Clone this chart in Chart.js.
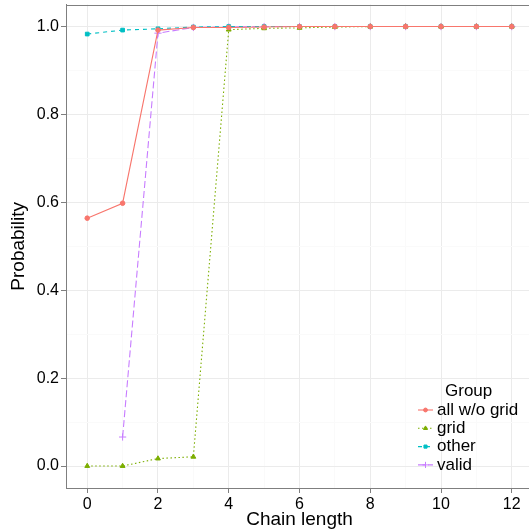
<!DOCTYPE html>
<html>
<head>
<meta charset="utf-8">
<script src="https://cdn.jsdelivr.net/npm/chart.js@4/dist/chart.umd.min.js"></script>
<style>
    html, body { margin: 0; padding: 0; overflow: hidden; background: #fff; }
    #wrap { width: 540px; height: 532px; }
</style>
</head>
<body>
<div id="wrap"><canvas id="chainChart" width="540" height="532"></canvas></div>
<script>
// Data
const chainLengths = [0, 1, 2, 3, 4, 5, 6, 7, 8, 9, 10, 11, 12];
const allWoGrid = [0.564, 0.598, 0.992, 0.998, 0.998, 0.999, 1.0, 1.0, 1.0, 1.0, 1.0, 1.0, 1.0];
const gridVals = [0.0, 0.0, 0.017, 0.021, 0.993, 0.996, 0.997, 0.999, 1.0, 1.0, 1.0, 1.0, 1.0];
const otherVals = [0.983, 0.992, 0.995, 0.999, 1.0, 1.0, 1.0, 1.0, 1.0, 1.0, 1.0, 1.0, 1.0];
const validVals = [null, 0.066, 0.985, 0.998, 0.999, 1.0, 1.0, 1.0, 1.0, 1.0, 1.0, 1.0, 1.0];
const groupNames = ['all w/o grid', 'grid', 'other', 'valid'];

// Axis ticks
const xTicks = [0, 2, 4, 6, 8, 10, 12];
const xMinor = [1, 3, 5, 7, 9, 11];
const yTicks = [0, 0.2, 0.4, 0.6, 0.8, 1.0];
const yMinor = [0.1, 0.3, 0.5, 0.7, 0.9];

const FONT = '"Liberation Sans", Arial, Helvetica, sans-serif';
const MAJOR = '#EBEBEB';
const MINOR = '#FAFAFA';
const AXIS = '#7F7F7F';

function toPoints(values) {
    return chainLengths.map((x, i) => ({ x: x, y: values[i] }));
}

function makeTicks(major, minor) {
    return major.concat(minor).sort((a, b) => a - b).map(v => ({ value: v }));
}

// Panel border (top side included) like theme_bw
const panelBorder = {
    id: 'panelBorder',
    afterDatasetsDraw(chart) {
        const { ctx, chartArea: a } = chart;
        ctx.save();
        ctx.strokeStyle = AXIS;
        ctx.lineWidth = 1;
        ctx.strokeRect(Math.round(a.left) + 0.5, Math.round(a.top) + 0.5,
            Math.round(a.right - a.left), Math.round(a.bottom - a.top));
        ctx.restore();
    }
};

// Legend placed inside the panel, bottom right
const insideLegend = {
    id: 'insideLegend',
    afterDraw(chart) {
        const ctx = chart.ctx;
        ctx.save();
        ctx.font = '17px ' + FONT;
        ctx.fillStyle = '#000';
        ctx.textBaseline = 'middle';
        ctx.textAlign = 'left';
        ctx.fillText('Group', 445, 391);
        chart.data.datasets.forEach((ds, i) => {
            const y = 410 + i * 18.3;
            ctx.strokeStyle = ds.borderColor;
            ctx.fillStyle = ds.borderColor;
            ctx.lineWidth = 1.1;
            ctx.setLineDash(ds.borderDash || []);
            ctx.beginPath();
            ctx.moveTo(418, y);
            ctx.lineTo(433, y);
            ctx.stroke();
            ctx.setLineDash([]);
            ctx.lineWidth = 1;
            Chart.helpers.drawPoint(ctx, {
                pointStyle: ds.pointStyle,
                radius: ds.pointRadius * 0.85,
                rotation: 0,
                borderWidth: 1
            }, 425.5, y);
            ctx.fillStyle = '#000';
            ctx.fillText(ds.label, 437, y);
        });
        ctx.restore();
    }
};

const ctx = document.getElementById('chainChart');
new Chart(ctx, {
    type: 'line',
    data: {
        datasets: [{
            label: groupNames[0],
            data: toPoints(allWoGrid),
            borderColor: '#F8766D',
            backgroundColor: '#F8766D',
            pointStyle: 'circle',
            pointRadius: 2.3
        }, {
            label: groupNames[1],
            data: toPoints(gridVals),
            borderColor: '#7CAE00',
            backgroundColor: '#7CAE00',
            borderDash: [1.5, 2.5],
            pointStyle: 'triangle',
            pointRadius: 2.8
        }, {
            label: groupNames[2],
            data: toPoints(otherVals),
            borderColor: '#00BFC4',
            backgroundColor: '#00BFC4',
            borderDash: [4, 4],
            pointStyle: 'rect',
            pointRadius: 2.6
        }, {
            label: groupNames[3],
            data: toPoints(validVals),
            borderColor: '#C77CFF',
            backgroundColor: '#C77CFF',
            borderDash: [7, 3],
            pointStyle: 'cross',
            pointRadius: 3.6,
            pointBorderWidth: 1
        }]
    },
    options: {
        responsive: false,
        animation: false,
        layout: { padding: { left: 0, right: 7, top: 4, bottom: 0 } },
        elements: {
            line: { borderWidth: 1.1, tension: 0, fill: false },
            point: { borderWidth: 1, hoverRadius: 3 }
        },
        plugins: {
            legend: { display: false },
            tooltip: { enabled: false }
        },
        scales: {
            x: {
                type: 'linear',
                min: -0.6,
                max: 12.6,
                afterBuildTicks: function (scale) {
                    scale.ticks = makeTicks(xTicks, xMinor);
                },
                afterFit: function (scale) {
                    scale.height = 44;
                    scale.paddingLeft = 0;
                    scale.paddingRight = 0;
                },
                ticks: {
                    autoSkip: false,
                    maxRotation: 0,
                    padding: 2,
                    color: '#000',
                    font: { family: FONT, size: 16 },
                    callback: function (value) {
                        return xTicks.includes(value) ? String(value) : '';
                    }
                },
                grid: {
                    color: (c) => xTicks.includes(c.tick && c.tick.value) ? MAJOR : MINOR,
                    tickColor: (c) => xTicks.includes(c.tick && c.tick.value) ? AXIS : 'rgba(0,0,0,0)',
                    tickLength: 5,
                    lineWidth: 1
                },
                border: { display: true, color: AXIS, width: 1 },
                title: {
                    display: true,
                    text: 'Chain length',
                    color: '#000',
                    font: { family: FONT, size: 19, lineHeight: 1.2 },
                    padding: { top: 0, bottom: 1 }
                }
            },
            y: {
                type: 'linear',
                min: -0.05,
                max: 1.05,
                afterBuildTicks: function (scale) {
                    scale.ticks = makeTicks(yTicks, yMinor);
                },
                afterFit: function (scale) {
                    scale.width = 66;
                    scale.paddingTop = 0;
                    scale.paddingBottom = 0;
                },
                ticks: {
                    autoSkip: false,
                    padding: 2,
                    color: '#000',
                    font: { family: FONT, size: 16 },
                    callback: function (value) {
                        return yTicks.includes(value) ? value.toFixed(1) : '';
                    }
                },
                grid: {
                    color: (c) => yTicks.includes(c.tick && c.tick.value) ? MAJOR : MINOR,
                    tickColor: (c) => yTicks.includes(c.tick && c.tick.value) ? AXIS : 'rgba(0,0,0,0)',
                    tickLength: 5,
                    lineWidth: 1
                },
                border: { display: true, color: AXIS, width: 1 },
                title: {
                    display: true,
                    text: 'Probability',
                    color: '#000',
                    font: { family: FONT, size: 19, lineHeight: 1.2 },
                    padding: { top: 7, bottom: 0 }
                }
            }
        }
    },
    plugins: [panelBorder, insideLegend]
});
</script>
</body>
</html>
